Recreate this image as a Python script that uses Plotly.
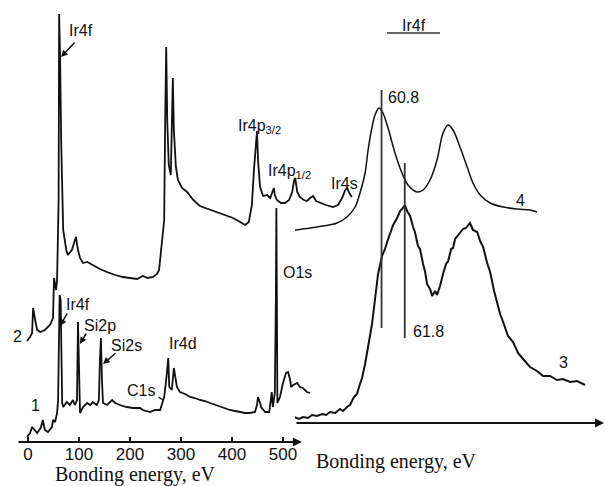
import plotly.graph_objects as go

# ---------------- data ----------------
# Survey spectrum 2 (upper), binding energy eV / intensity a.u.
survey2_E = [-2, 4, 8, 10, 14, 18, 24, 33, 43, 49, 51, 55, 57, 60, 61, 63, 65, 67, 69, 75, 78, 86, 90, 94, 98,
             102, 108, 116, 127, 141, 155, 171, 186, 200, 214, 225, 235, 245, 253, 257, 261, 265, 267, 269, 271,
             273, 276, 280, 282, 284, 286, 290, 294, 302, 312, 324, 337, 353, 371, 386, 402, 416, 426, 433, 439,
             443, 447, 449, 451, 455, 461, 469, 475, 478, 482, 484, 488, 496, 504, 512, 518, 522, 524, 528, 533,
             541, 547, 553, 559, 565, 573, 584, 598, 608, 616, 622, 626, 630, 635]
survey2_I = [101, 105, 109, 134, 122, 112, 110, 112, 117, 124, 164, 152, 162, 242, 428, 382, 302, 242, 212, 192,
             187, 192, 200, 205, 192, 184, 179, 180, 177, 173, 170, 167, 165, 164, 163, 166, 164, 165, 168, 172,
             192, 206, 222, 322, 395, 322, 277, 267, 322, 364, 312, 275, 262, 254, 250, 242, 236, 233, 230, 227,
             224, 220, 217, 220, 237, 272, 302, 311, 282, 255, 246, 247, 244, 249, 254, 247, 242, 239, 239, 242,
             250, 262, 264, 250, 245, 242, 241, 244, 246, 241, 239, 237, 235, 237, 244, 252, 254, 249, 245]

# Survey spectrum 1 (lower)
survey1_E = [-2, 4, 8, 14, 18, 22, 25, 29, 33, 39, 47, 49, 53, 57, 59, 61, 62, 64, 65, 67, 69, 73, 76, 82, 88,
             92, 96, 98, 100, 102, 108, 116, 122, 127, 135, 139, 141, 143, 145, 147, 155, 165, 171, 180, 194,
             206, 220, 225, 239, 249, 259, 263, 267, 271, 275, 277, 282, 286, 292, 298, 308, 318, 327, 337, 347,
             357, 367, 377, 386, 396, 406, 416, 426, 435, 445, 449, 451, 455, 457, 465, 473, 476, 478, 480, 484,
             486, 487, 488, 489, 494, 500, 506, 510, 514, 516, 520, 528, 533, 539, 547, 553]
survey1_I = [5, 9, 15, 12, 9, 12, 14, 22, 12, 10, 15, 22, 20, 29, 42, 112, 147, 142, 82, 39, 35, 38, 40, 37, 42,
             37, 42, 120, 82, 29, 35, 39, 37, 40, 37, 42, 82, 104, 62, 39, 37, 42, 39, 37, 35,
             34, 34, 32, 30, 32, 32, 39, 45, 62, 84, 55, 52, 74, 55, 50, 48, 45, 44, 42, 41,
             39, 37, 35, 34, 32, 31, 30, 29, 29, 30, 37, 45, 39, 35, 30, 30, 42, 50, 35, 49,
             142, 234, 142, 39, 45, 59, 69, 70, 62, 55, 57, 59, 55, 54, 50, 49]
survey_ticks = [0, 100, 200, 300, 400, 500]

# Ir4f spectrum 4 (smooth, upper)
ir4f_4_E = [57.07, 57.72, 58.28, 58.88, 59.31, 59.66, 59.87, 60.09, 60.22, 60.39, 60.52, 60.69, 60.86, 61.08,
            61.38, 61.68, 61.94, 62.33, 62.59, 62.89, 63.19, 63.45, 63.67, 63.88, 64.18, 64.49, 64.74, 65.05,
            65.48, 66.04, 66.64, 67.20, 67.50]
ir4f_4_I = [193, 195, 197, 200, 206, 216, 230, 250, 273, 296, 308, 315, 310, 295,
            270, 250, 238, 231, 233, 243, 263, 290, 298, 293, 276, 256, 240, 228,
            220, 216, 214, 213, 211]

# Ir4f spectrum 3 (noisy, lower)
ir4f_3_E = [57.03, 57.24, 57.42, 57.63, 57.80, 58.02, 58.24, 58.41, 58.58, 58.80, 59.01, 59.14, 59.31, 59.44,
            59.61, 59.74, 59.87, 59.96, 60.09, 60.17, 60.30, 60.39, 60.52, 60.65, 60.82, 60.95, 61.04, 61.17,
            61.30, 61.47, 61.60, 61.68, 61.81, 61.90, 62.03, 62.16, 62.24, 62.37, 62.46, 62.59, 62.68, 62.76,
            62.89, 62.98, 63.11, 63.19, 63.32, 63.45, 63.58, 63.67, 63.80, 63.88, 63.97, 64.14, 64.31, 64.44,
            64.61, 64.74, 64.92, 65.05, 65.18, 65.35, 65.48, 65.65, 65.78, 65.91, 66.04, 66.25, 66.47, 66.68,
            66.90, 67.20, 67.50, 67.76, 68.06, 68.36, 68.62, 68.93, 69.23, 69.57]
ir4f_3_I = [6, 4, 6, 5, 8, 7, 9, 8, 11, 10, 14, 12, 16, 18,
            26, 29, 39, 45, 59, 69, 86, 99, 124, 149, 167, 174, 181, 189,
            198, 205, 212, 214, 218, 212, 207, 196, 191, 177, 174, 159, 151, 139,
            134, 127, 132, 128, 137, 149, 159, 162, 174, 175, 184, 189, 194, 195,
            200, 193, 191, 182, 176, 160, 151, 132, 121, 109, 101, 87, 81, 70,
            64, 56, 52, 47, 47, 43, 44, 41, 42, 38]
line_60_8 = 60.8
line_61_8 = 61.8

# ---------------- figure ----------------
W, H = 605, 486


def fx(p):
    return p / W


def fy(p):
    return 1 - p / H


ink = "#111111"
sans = "Liberation Sans, Arial, sans-serif"
serif = "Liberation Serif, Times New Roman, serif"

fig = go.Figure()
fig.add_trace(go.Scatter(x=survey2_E, y=survey2_I, mode="lines", line=dict(color=ink, width=1.8),
                         xaxis="x", yaxis="y", hoverinfo="skip"))
fig.add_trace(go.Scatter(x=survey1_E, y=survey1_I, mode="lines", line=dict(color=ink, width=1.8),
                         xaxis="x", yaxis="y", hoverinfo="skip"))
fig.add_trace(go.Scatter(x=ir4f_4_E, y=ir4f_4_I, mode="lines", line=dict(color=ink, width=1.5, shape="spline"),
                         xaxis="x2", yaxis="y2", hoverinfo="skip"))
fig.add_trace(go.Scatter(x=ir4f_3_E, y=ir4f_3_I, mode="lines", line=dict(color=ink, width=2),
                         xaxis="x2", yaxis="y2", hoverinfo="skip"))

left_x0, left_x1 = -21.6, 651
fig.update_layout(
    width=W, height=H, margin=dict(l=0, r=0, t=0, b=0),
    paper_bgcolor="white", plot_bgcolor="rgba(0,0,0,0)", showlegend=False,
    xaxis=dict(domain=[fx(17), fx(360)], range=[left_x0, left_x1], tickvals=survey_ticks,
               ticks="inside", ticklen=5, tickwidth=1.5, tickcolor=ink, showline=False, showgrid=False,
               zeroline=False, anchor="free", position=1 - 442 / H,
               tickfont=dict(family=sans, size=17, color=ink)),
    yaxis=dict(domain=[0, 1], range=[-44, 442], visible=False),
    xaxis2=dict(domain=[fx(295), 1], range=[57.07, 70.43], visible=False, anchor="y2"),
    yaxis2=dict(domain=[0, 1], range=[-63, 423], visible=False, anchor="x2"),
)

ann = []
# axis arrows
ann.append(dict(xref="x", yref="y", axref="x", ayref="y", x=537, y=0, ax=left_x0, ay=0, text="",
                showarrow=True, arrowhead=2, arrowsize=1, arrowwidth=1.8, arrowcolor=ink))
ann.append(dict(xref="x2", yref="y2", axref="x2", ayref="y2", x=70.39, y=0, ax=57.07, ay=0, text="",
                showarrow=True, arrowhead=2, arrowsize=1, arrowwidth=1.8, arrowcolor=ink))


def label(text, x, y, size=16, xanchor="left", font=sans):
    ann.append(dict(xref="paper", yref="paper", x=fx(x), y=fy(y), text=text, showarrow=False,
                    xanchor=xanchor, yanchor="middle", font=dict(family=font, size=size, color=ink)))


def pointer(x0, y0, x1, y1, head=2):
    ann.append(dict(xref="paper", yref="paper", x=fx(x1), y=fy(y1), ax=x0 - x1, ay=y0 - y1, text="",
                    showarrow=True, arrowhead=head, arrowsize=0.9, arrowwidth=1.5, arrowcolor=ink,
                    standoff=0, startstandoff=0))


label("Ir4f", 67, 31)
pointer(76, 41, 61, 57)
label("Ir4p<sub>3/2</sub>", 236, 127)
label("Ir4p<sub>1/2</sub>", 266, 172)
label("Ir4s", 329, 183)
label("O1s", 281, 272)
label("Ir4f", 64, 304)
pointer(68, 312, 60, 326)
label("Si2p", 82, 325)
pointer(87, 332, 80, 344)
label("Si2s", 109, 345)
pointer(117, 352, 103, 364)
label("C1s", 125, 390)
pointer(157, 396, 163, 400, head=0)
label("Ir4d", 167, 343)
label("1", 35, 405, xanchor="center")
label("2", 17, 336, xanchor="center")
label("60.8", 386, 98)
label("61.8", 411, 331)
label("Ir4f", 414, 25, xanchor="center")
label("4", 520, 200, xanchor="center")
label("3", 563, 362, xanchor="center")
label("Bonding energy, eV", 135, 474, size=20, xanchor="center", font=serif)
label("Bonding energy, eV", 396, 461, size=20, xanchor="center", font=serif)

fig.update_layout(annotations=ann)

shapes = [
    dict(type="line", xref="x2", yref="y2", x0=line_60_8, x1=line_60_8, y0=95, y1=333,
         line=dict(color="#333333", width=1.8)),
    dict(type="line", xref="x2", yref="y2", x0=line_61_8, x1=line_61_8, y0=85, y1=260,
         line=dict(color="#333333", width=1.8)),
    dict(type="line", xref="paper", yref="paper", x0=fx(387), x1=fx(440), y0=fy(33), y1=fy(33),
         line=dict(color="#333333", width=1.5)),
]
fig.update_layout(shapes=shapes)

fig.write_html("out.html")
